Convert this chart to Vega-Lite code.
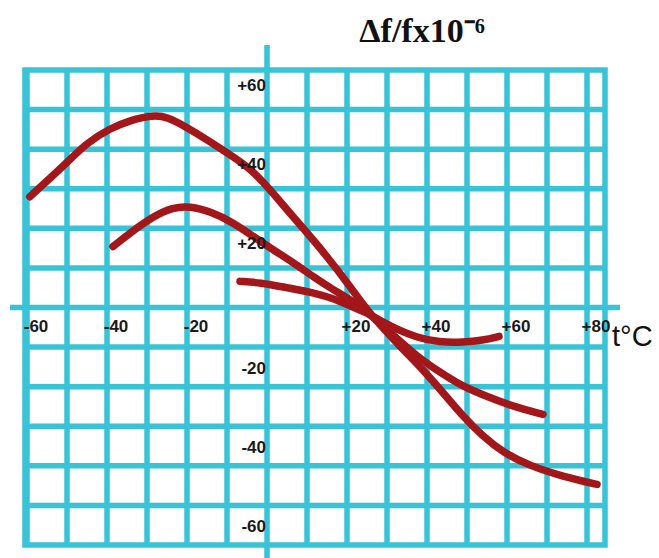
{
  "$schema": "https://vega.github.io/schema/vega-lite/v6.json",
  "width": 580,
  "height": 475,
  "autosize": "none",
  "padding": {"left": 25, "top": 70, "right": 54, "bottom": 13},
  "background": "white",
  "config": {
    "view": {"stroke": "#38c3d7", "strokeWidth": 5.5},
    "font": "Liberation Sans",
    "axis": {"domain": false, "ticks": false, "labels": false, "grid": false, "title": null}
  },
  "title": {
    "text": "Δf/fx10⁻⁶",
    "font": "Liberation Serif",
    "fontSize": 34,
    "fontWeight": "bold",
    "color": "#111111",
    "anchor": "start",
    "dx": 352,
    "offset": -7
  },
  "datasets": {
    "curves": [
      {"curve": "A", "t": -59.3, "df": 28.0},
      {"curve": "A", "t": -51, "df": 35.6},
      {"curve": "A", "t": -45, "df": 41.7},
      {"curve": "A", "t": -39.3, "df": 45.2},
      {"curve": "A", "t": -34.3, "df": 47.3},
      {"curve": "A", "t": -28.5, "df": 48.6},
      {"curve": "A", "t": -25, "df": 48.2},
      {"curve": "A", "t": -20, "df": 45.5},
      {"curve": "A", "t": -15, "df": 42.4},
      {"curve": "A", "t": -10, "df": 39.1},
      {"curve": "A", "t": -4.3, "df": 35.3},
      {"curve": "A", "t": 0.75, "df": 29.8},
      {"curve": "A", "t": 5, "df": 24.7},
      {"curve": "A", "t": 10, "df": 18.9},
      {"curve": "A", "t": 15, "df": 12.9},
      {"curve": "A", "t": 20.8, "df": 5.3},
      {"curve": "A", "t": 25.5, "df": -1.5},
      {"curve": "A", "t": 34, "df": -10.6},
      {"curve": "A", "t": 39, "df": -15.7},
      {"curve": "A", "t": 44, "df": -21.5},
      {"curve": "A", "t": 49, "df": -27.5},
      {"curve": "A", "t": 54, "df": -32.6},
      {"curve": "A", "t": 59, "df": -36.6},
      {"curve": "A", "t": 65.7, "df": -40.0},
      {"curve": "A", "t": 74, "df": -42.7},
      {"curve": "A", "t": 82.5, "df": -44.7},
      {"curve": "B", "t": -38.5, "df": 15.4},
      {"curve": "B", "t": -34, "df": 19.0},
      {"curve": "B", "t": -28.5, "df": 23.0},
      {"curve": "B", "t": -23.5, "df": 25.3},
      {"curve": "B", "t": -19.3, "df": 25.6},
      {"curve": "B", "t": -14, "df": 24.2},
      {"curve": "B", "t": -8.5, "df": 21.5},
      {"curve": "B", "t": -3.5, "df": 18.0},
      {"curve": "B", "t": 1.5, "df": 14.6},
      {"curve": "B", "t": 6.5, "df": 11.4},
      {"curve": "B", "t": 11.5, "df": 7.8},
      {"curve": "B", "t": 16.5, "df": 4.5},
      {"curve": "B", "t": 20.8, "df": 2.0},
      {"curve": "B", "t": 25.5, "df": -1.5},
      {"curve": "B", "t": 31, "df": -6.5},
      {"curve": "B", "t": 37.5, "df": -12.4},
      {"curve": "B", "t": 43.3, "df": -16.4},
      {"curve": "B", "t": 49, "df": -20.0},
      {"curve": "B", "t": 55, "df": -22.5},
      {"curve": "B", "t": 61.5, "df": -25.0},
      {"curve": "B", "t": 69, "df": -27.0},
      {"curve": "C", "t": -6.75, "df": 6.6},
      {"curve": "C", "t": -1.75, "df": 6.3},
      {"curve": "C", "t": 5, "df": 5.0},
      {"curve": "C", "t": 11.5, "df": 3.8},
      {"curve": "C", "t": 17.5, "df": 2.0},
      {"curve": "C", "t": 20.8, "df": 0.3},
      {"curve": "C", "t": 25.5, "df": -1.5},
      {"curve": "C", "t": 28.5, "df": -3.5},
      {"curve": "C", "t": 32.5, "df": -5.5},
      {"curve": "C", "t": 37.5, "df": -7.6},
      {"curve": "C", "t": 43, "df": -8.8},
      {"curve": "C", "t": 49, "df": -8.8},
      {"curve": "C", "t": 54, "df": -8.3},
      {"curve": "C", "t": 58, "df": -7.3}
    ],
    "gridx": [
      {"v": -60}, {"v": -50}, {"v": -40}, {"v": -30}, {"v": -20}, {"v": -10},
      {"v": 10}, {"v": 20}, {"v": 30}, {"v": 40}, {"v": 50}, {"v": 60}, {"v": 70}, {"v": 80}
    ],
    "gridy": [
      {"v": -50}, {"v": -40}, {"v": -30}, {"v": -20}, {"v": -10},
      {"v": 10}, {"v": 20}, {"v": 30}, {"v": 40}, {"v": 50}
    ],
    "xlabels": [
      {"v": -60, "label": "-60"},
      {"v": -40, "label": "-40"},
      {"v": -20, "label": "-20"},
      {"v": 20, "label": "+20"},
      {"v": 40, "label": "+40"},
      {"v": 60, "label": "+60"},
      {"v": 80, "label": "+80"}
    ],
    "ylabels": [
      {"v": 60, "label": "+60"},
      {"v": 40, "label": "+40"},
      {"v": 20, "label": "+20"},
      {"v": -20, "label": "-20"},
      {"v": -40, "label": "-40"},
      {"v": -60, "label": "-60"}
    ]
  },
  "layer": [
    {
      "data": {"name": "gridx"},
      "mark": {"type": "rule", "color": "#38c3d7", "strokeWidth": 5.5},
      "encoding": {
        "x": {"field": "v", "type": "quantitative", "scale": {"domain": [-60.5, 84.5], "nice": false, "zero": false}}
      }
    },
    {
      "data": {"name": "gridy"},
      "mark": {"type": "rule", "color": "#38c3d7", "strokeWidth": 5.5},
      "encoding": {
        "y": {"field": "v", "type": "quantitative", "scale": {"domain": [-60, 60], "nice": false, "zero": false}}
      }
    },
    {
      "data": {"values": [{}]},
      "mark": {"type": "rule", "color": "#38c3d7", "strokeWidth": 5.5},
      "encoding": {
        "x": {"datum": -64.25, "type": "quantitative", "scale": {"domain": [-60.5, 84.5], "nice": false, "zero": false}},
        "x2": {"datum": 88.25},
        "y": {"datum": 0, "type": "quantitative", "scale": {"domain": [-60, 60], "nice": false, "zero": false}}
      }
    },
    {
      "data": {"values": [{}]},
      "mark": {"type": "rule", "color": "#38c3d7", "strokeWidth": 5.5},
      "encoding": {
        "x": {"datum": 0, "type": "quantitative", "scale": {"domain": [-60.5, 84.5], "nice": false, "zero": false}},
        "y": {"datum": 66.3, "type": "quantitative", "scale": {"domain": [-60, 60], "nice": false, "zero": false}},
        "y2": {"datum": -63.6}
      }
    },
    {
      "data": {"name": "curves"},
      "mark": {"type": "line", "color": "#a3161a", "strokeWidth": 7.5, "strokeCap": "round", "strokeJoin": "round", "interpolate": "basis"},
      "encoding": {
        "x": {"field": "t", "type": "quantitative", "scale": {"domain": [-60.5, 84.5], "nice": false, "zero": false}},
        "y": {"field": "df", "type": "quantitative", "scale": {"domain": [-60, 60], "nice": false, "zero": false}},
        "detail": {"field": "curve"}
      }
    },
    {
      "data": {"name": "xlabels"},
      "mark": {"type": "text", "font": "Liberation Sans", "fontSize": 17, "fontWeight": "bold", "color": "#1a1a1a", "align": "center", "baseline": "middle", "dx": 9, "dy": 19},
      "encoding": {
        "x": {"field": "v", "type": "quantitative", "scale": {"domain": [-60.5, 84.5], "nice": false, "zero": false}},
        "y": {"datum": 0, "type": "quantitative", "scale": {"domain": [-60, 60], "nice": false, "zero": false}},
        "text": {"field": "label"}
      }
    },
    {
      "data": {"name": "ylabels"},
      "transform": [{"filter": "datum.v > 0"}],
      "mark": {"type": "text", "font": "Liberation Sans", "fontSize": 17, "fontWeight": "bold", "color": "#1a1a1a", "align": "right", "baseline": "middle", "dx": -1, "dy": 16},
      "encoding": {
        "x": {"datum": 0, "type": "quantitative", "scale": {"domain": [-60.5, 84.5], "nice": false, "zero": false}},
        "y": {"field": "v", "type": "quantitative", "scale": {"domain": [-60, 60], "nice": false, "zero": false}},
        "text": {"field": "label"}
      }
    },
    {
      "data": {"name": "ylabels"},
      "transform": [{"filter": "datum.v < 0"}],
      "mark": {"type": "text", "font": "Liberation Sans", "fontSize": 17, "fontWeight": "bold", "color": "#1a1a1a", "align": "right", "baseline": "middle", "dx": -1, "dy": -18},
      "encoding": {
        "x": {"datum": 0, "type": "quantitative", "scale": {"domain": [-60.5, 84.5], "nice": false, "zero": false}},
        "y": {"field": "v", "type": "quantitative", "scale": {"domain": [-60, 60], "nice": false, "zero": false}},
        "text": {"field": "label"}
      }
    },
    {
      "data": {"values": [{"label": "t°C"}]},
      "mark": {"type": "text", "font": "Liberation Sans", "fontSize": 29, "color": "#111111", "align": "left", "baseline": "alphabetic", "dx": 7, "dy": 38},
      "encoding": {
        "x": {"datum": 84.5, "type": "quantitative", "scale": {"domain": [-60.5, 84.5], "nice": false, "zero": false}},
        "y": {"datum": 0, "type": "quantitative", "scale": {"domain": [-60, 60], "nice": false, "zero": false}},
        "text": {"field": "label"}
      }
    }
  ]
}
